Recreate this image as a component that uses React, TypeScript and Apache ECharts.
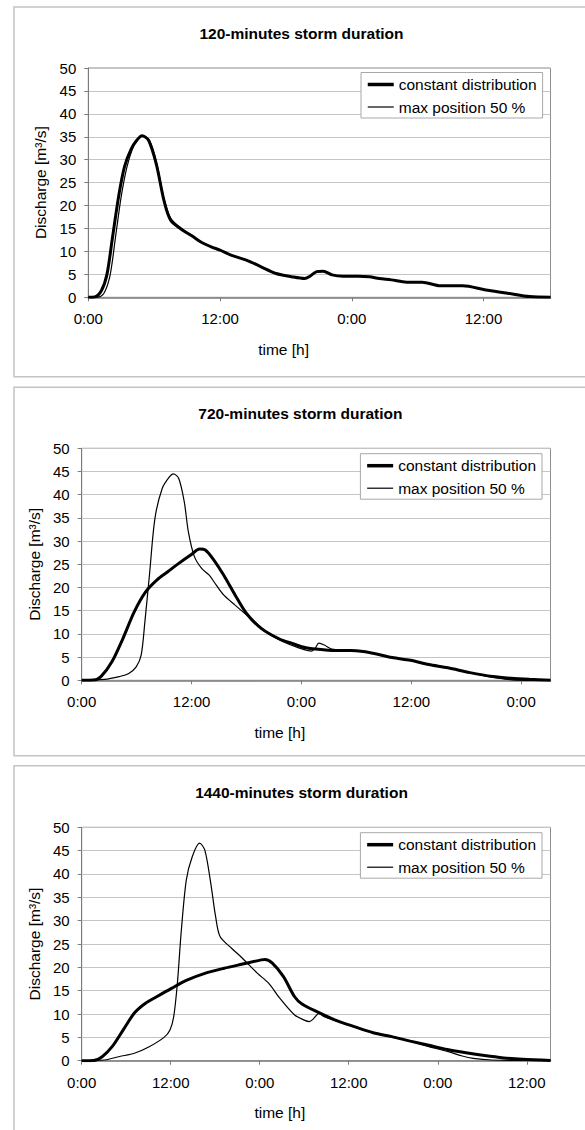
import React, { useEffect, useRef } from "react";
import * as echarts from "echarts";

const FONT = "'Liberation Sans', Arial, Helvetica, sans-serif";

const TITLES = [
  "120-minutes storm duration",
  "720-minutes storm duration",
  "1440-minutes storm duration",
];
const SERIES_NAMES = ["constant distribution", "max position 50 %"];
const Y_NAME = "Discharge [m³/s]";
const X_NAME = "time [h]";

const X_MAX = [42.1, 51.2, 63.2];
const TICK_VALUES = [
  [0, 12, 24, 36],
  [0, 12, 24, 36, 48],
  [0, 12, 24, 36, 48, 60],
];
const TICK_LABELS = [
  ["0:00", "12:00", "0:00", "12:00"],
  ["0:00", "12:00", "0:00", "12:00", "0:00"],
  ["0:00", "12:00", "0:00", "12:00", "0:00", "12:00"],
];

// [hours, discharge m3/s]
const p1Constant = [
  [0, 0], [0.6, 0.1], [1.2, 1.5], [1.7, 5], [2.2, 13], [2.8, 22.5], [3.3, 28.5],
  [3.9, 32.3], [4.4, 34.2], [4.9, 35.2], [5.5, 34.2], [6.2, 29], [6.9, 21],
  [7.5, 16.8], [8.5, 14.8], [9.5, 13.3], [10.3, 12], [11.2, 11], [12, 10.3],
  [13, 9.2], [14.4, 8.1], [15.7, 6.7], [17.1, 5.2], [18.5, 4.5], [19.7, 4.1],
  [20.2, 4.6], [20.8, 5.6], [21.4, 5.7], [22.2, 4.9], [23.2, 4.6], [24.6, 4.6],
  [25.6, 4.5], [26.5, 4.1], [27.6, 3.8], [29, 3.3], [30.4, 3.3], [32.1, 2.5],
  [34.1, 2.5], [36.2, 1.6], [38.2, 0.9], [40.2, 0.15], [42.1, 0],
];
const p1MaxPos = [
  [0, 0], [1, 0.1], [1.5, 1.2], [2.0, 5], [2.5, 13.5], [3.0, 22], [3.5, 28.2],
  [4.0, 32.2], [4.5, 34.5], [5.0, 35.2], [5.6, 34], [6.2, 29.5], [6.9, 21.5],
  [7.5, 17.3], [8.5, 15], [9.5, 13.4], [10.3, 12], [11.2, 11], [12, 10.3],
  [13, 9.2], [14.4, 8.1], [15.7, 6.7], [17.1, 5.2], [18.5, 4.5], [19.7, 4.1],
  [20.2, 4.6], [20.8, 5.6], [21.4, 5.7], [22.2, 4.9], [23.2, 4.6], [24.6, 4.6],
  [25.6, 4.5], [26.5, 4.1], [27.6, 3.8], [29, 3.3], [30.4, 3.3], [32.1, 2.5],
  [34.1, 2.5], [36.2, 1.6], [38.2, 0.9], [40.2, 0.15], [42.1, 0],
];

const p2Constant = [
  [0, 0], [1.3, 0.05], [2.1, 0.8], [3.3, 4.0], [4.5, 9.0], [5.75, 14.8],
  [7.0, 19.1], [8.2, 21.6], [9.4, 23.4], [10.6, 25.2], [11.9, 27.0],
  [12.9, 28.3], [13.5, 28.1], [14.3, 26.3], [15.5, 22.7], [16.75, 18.4],
  [18.0, 14.4], [19.6, 11.2], [21.6, 8.9], [22.9, 8.0], [24.5, 7.0],
  [26.9, 6.5], [29.4, 6.4], [31.4, 6.0], [33.9, 4.9], [35.9, 4.3],
  [37.9, 3.4], [40.0, 2.7], [42.4, 1.65], [44.9, 0.8], [46.9, 0.43],
  [48.9, 0.2], [51.2, 0],
];
const p2MaxPos = [
  [0, 0], [2.5, 0.2], [4.1, 0.8], [5.1, 1.4], [5.95, 2.9], [6.5, 5.5],
  [6.9, 12.6], [7.4, 22.7], [8.0, 34.9], [8.8, 41.4], [9.6, 43.9],
  [10.0, 44.5], [10.6, 43.5], [11.2, 38.5], [11.65, 32.0], [12.3, 26.7],
  [13.1, 24.1], [13.9, 22.7], [14.7, 20.5], [15.5, 18.4], [16.75, 16.2],
  [18.4, 13.4], [20.4, 10.1], [22.0, 8.3], [23.7, 7.0], [25.1, 6.3],
  [25.5, 6.9], [25.9, 8.0], [26.5, 7.6], [27.3, 6.75], [29.4, 6.4],
  [31.4, 6.0], [33.9, 4.9], [35.9, 4.3], [37.9, 3.4], [40.0, 2.7],
  [42.4, 1.65], [44.5, 0.8], [46.1, 0.3], [47.3, 0.05], [51.2, 0],
];

const p3Constant = [
  [0, 0], [1.6, 0.05], [2.8, 0.9], [4.1, 3.0], [5.6, 6.6], [7.1, 10.2],
  [8.6, 12.3], [10.1, 13.7], [12.1, 15.5], [14.1, 17.2], [16.6, 18.7],
  [19.2, 19.8], [21.7, 20.7], [24.2, 21.6], [24.7, 21.7], [25.7, 20.9],
  [27.2, 18.0], [28.7, 13.7], [29.7, 12.15], [31.7, 10.5], [34.2, 8.7],
  [36.75, 7.3], [39.3, 6.0], [41.8, 5.15], [44.3, 4.2], [46.8, 3.3],
  [49.3, 2.4], [51.8, 1.7], [54.3, 1.1], [56.9, 0.6], [59.4, 0.3],
  [63.2, 0.05],
];
const p3MaxPos = [
  [0, 0], [3.1, 0.15], [5.1, 0.9], [7.1, 1.6], [9.1, 3.0], [11.1, 5.0],
  [11.9, 6.6], [12.4, 9.4], [12.9, 16.6], [13.4, 27.3], [14.1, 38.7],
  [14.9, 43.7], [15.9, 46.6], [16.6, 45.1], [17.4, 38.0], [18.05, 30.9],
  [18.65, 26.6], [20.2, 24.1], [21.7, 21.9], [23.7, 18.7], [25.2, 16.6],
  [26.7, 13.4], [28.7, 9.8], [30.0, 8.7], [30.7, 8.37], [31.2, 8.9],
  [32.0, 10.15], [32.7, 9.4], [34.2, 8.6], [36.75, 7.3], [39.3, 6.0],
  [41.8, 5.15], [44.3, 4.2], [46.8, 3.0], [49.3, 2.0], [51.3, 1.0],
  [52.8, 0.5], [55.3, 0.15], [59.4, 0.05], [63.2, 0],
];

const CONSTANT = [p1Constant, p2Constant, p3Constant];
const MAXPOS = [p1MaxPos, p2MaxPos, p3MaxPos];

// layout
const PANEL_TOP = [7, 387.3, 765.7];
const PANEL_BOTTOM = [376.7, 755.7, 1140];
const GRID_LEFT = [88.3, 81.7, 81.7];
const GRID_TOP = [68, 448.3, 827.3];
const GRID_HEIGHT = [229.3, 232, 233.4];
const GRID_RIGHT = 34.5;
const TITLE_POS = [[301.5, 33.3], [300.4, 413.3], [301.5, 792.7]];
const XNAME_POS = [[283.6, 349.3], [279.8, 732.7], [279.8, 1112.7]];
const LEGEND_POS = [[361, 72.5], [360.4, 453.7], [360.4, 832.7]];
const LINE_WIDTHS = [3, 1.2];

export default function App() {
  const ref = useRef<HTMLDivElement>(null);
  useEffect(() => {
    if (!ref.current) return;
    const chart = echarts.init(ref.current, undefined, { renderer: "svg" });
    const idx = [0, 1, 2];
    const graphic: any[] = [];
    idx.forEach((i) => {
      graphic.push({
        type: "rect",
        shape: { x: 14, y: PANEL_TOP[i], width: 620, height: PANEL_BOTTOM[i] - PANEL_TOP[i] },
        style: { fill: "none", stroke: "#c4c4c4", lineWidth: 1.5 },
        silent: true,
      });
      graphic.push({
        type: "text",
        x: TITLE_POS[i][0],
        y: TITLE_POS[i][1],
        style: {
          text: TITLES[i],
          fontSize: 15.5,
          fontWeight: "bold",
          fontFamily: FONT,
          fill: "#000",
          align: "center",
          verticalAlign: "middle",
        },
      });
      graphic.push({
        type: "text",
        x: XNAME_POS[i][0],
        y: XNAME_POS[i][1],
        style: {
          text: X_NAME,
          fontSize: 15.5,
          fontFamily: FONT,
          fill: "#000",
          align: "center",
          verticalAlign: "middle",
        },
      });
    });

    const option: any = {
      animation: false,
      backgroundColor: "#fff",
      graphic,
      grid: idx.map((i) => ({
        left: GRID_LEFT[i],
        top: GRID_TOP[i],
        right: GRID_RIGHT,
        height: GRID_HEIGHT[i],
        show: true,
        borderColor: "#8c8c8c",
        borderWidth: 1,
        backgroundColor: "transparent",
      })),
      legend: idx.map((i) => ({
        left: LEGEND_POS[i][0],
        top: LEGEND_POS[i][1],
        orient: "vertical",
        itemWidth: 26,
        itemHeight: 14,
        itemGap: 6.5,
        padding: [4, 6, 3, 5],
        borderColor: "#a8a8a8",
        borderWidth: 1,
        borderRadius: 0,
        backgroundColor: "#fff",
        selectedMode: false,
        itemStyle: { color: "rgba(0,0,0,0)", borderWidth: 0, opacity: 0 },
        textStyle: { fontSize: 15.5, fontFamily: FONT, color: "#000" },
        data: SERIES_NAMES.map((n, k) => ({
          name: n,
          lineStyle: { color: "#000", width: k === 0 ? 3.5 : 1.2 },
          itemStyle: { color: "rgba(0,0,0,0)", borderWidth: 0, opacity: 0 },
        })),
      })),
      xAxis: idx.map((i) => ({
        type: "value",
        gridIndex: i,
        min: 0,
        max: X_MAX[i],
        axisLine: { show: true, onZero: false, lineStyle: { color: "#7a7a7a", width: 1.5 } },
        axisTick: {
          show: true,
          customValues: TICK_VALUES[i],
          length: 4,
          lineStyle: { color: "#7a7a7a" },
        },
        axisLabel: {
          customValues: TICK_VALUES[i],
          formatter: (v: number) => {
            const k = TICK_VALUES[i].indexOf(Math.round(v));
            return k >= 0 ? TICK_LABELS[i][k] : "";
          },
          margin: 14,
          fontSize: 15,
          fontFamily: FONT,
          color: "#000",
        },
        splitLine: { show: false },
      })),
      yAxis: idx.map((i) => ({
        type: "value",
        gridIndex: i,
        min: 0,
        max: 50,
        interval: 5,
        name: Y_NAME,
        nameLocation: "middle",
        nameGap: 34,
        nameTextStyle: { fontSize: 15.5, fontFamily: FONT, color: "#000" },
        axisLine: { show: true, lineStyle: { color: "#7a7a7a", width: 1 } },
        axisTick: { show: true, length: 4, lineStyle: { color: "#7a7a7a" } },
        axisLabel: { margin: 12, fontSize: 15, fontFamily: FONT, color: "#000" },
        splitLine: { show: true, lineStyle: { color: "#c4c4c4", width: 1 } },
      })),
      series: idx.flatMap((i) =>
        [CONSTANT[i], MAXPOS[i]].map((d, k) => ({
          name: SERIES_NAMES[k],
          type: "line",
          xAxisIndex: i,
          yAxisIndex: i,
          data: d,
          symbol: "none",
          showSymbol: false,
          smooth: 0.3,
          lineStyle: { color: "#000", width: LINE_WIDTHS[k] },
          itemStyle: { color: "#000" },
        }))
      ),
    };
    chart.setOption(option);
    return () => chart.dispose();
  }, []);
  return (
    <div
      ref={ref}
      style={{ position: "absolute", left: 0, top: 0, width: 585, height: 1130, background: "#fff" }}
    />
  );
}
